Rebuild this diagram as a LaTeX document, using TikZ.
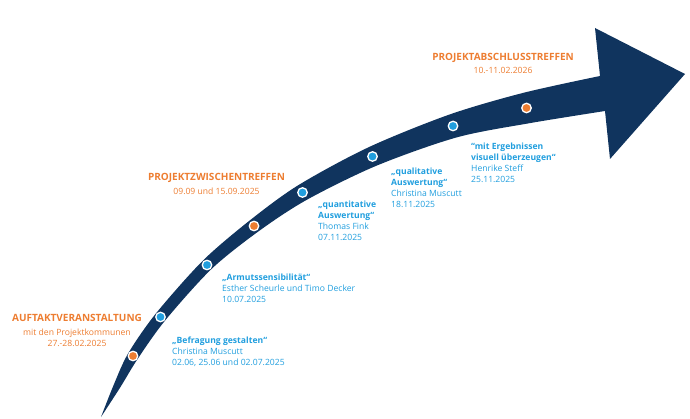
\documentclass[tikz,border=0pt]{standalone}
\usepackage{fontspec}
\setmainfont{Open Sans}
\usetikzlibrary{positioning}
\definecolor{navy}{RGB}{16,52,94}
\definecolor{milestone}{RGB}{237,125,49}
\definecolor{workshop}{RGB}{32,158,222}
\begin{document}
\begin{tikzpicture}[x=1pt,y=-1pt,
  dot/.style={circle,draw=white,line width=1.3pt,inner sep=0pt,minimum size=9.5pt},
  odot/.style={dot,fill=milestone},
  bdot/.style={dot,fill=workshop},
  wtext/.style={anchor=base west,align=left,inner sep=0pt,text=workshop,font={\fontsize{8.6}{11}\selectfont}},
  mtext/.style={anchor=base,align=center,inner sep=0pt,text=milestone,font={\fontsize{8.6}{11}\selectfont}}]
\useasboundingbox (0,0) rectangle (690,419);
% band and arrow head
\fill[navy] plot[smooth] coordinates {(101,417) (113.9,384.4) (128.2,353.3) (155.8,313.6)
    (202.8,260.7) (249.7,220.5) (298.3,185.2) (368.5,147.3) (449.3,114.6) (523.5,92.8) (600,76)}
  -- (595,28) -- (685,74) -- (610,159)
  -- plot[smooth] coordinates {(605,111) (529.5,123.2) (456.7,137.4) (376.5,165.7) (306.8,199.8)
    (258.3,231.5) (211.2,269.3) (165.2,320.4) (137.8,358.7) (120.1,387.6) (101,417)} -- cycle;
% milestones on the band
\node[odot] (d1) at (133,356) {};
\node[bdot] (d2) at (160.5,317) {};
\node[bdot] (d3) at (207,265) {};
\node[odot] (d4) at (254,226) {};
\node[bdot] (d5) at (302.5,192.5) {};
\node[bdot] (d6) at (372.5,156.5) {};
\node[bdot] (d7) at (453,126) {};
\node[odot] (d8) at (526.5,108) {};
% meetings (anchored at the last line)
\node[mtext] (auftakt) at (77,346) {{\fontsize{10}{11}\selectfont\bfseries AUFTAKTVERANSTALTUNG}\\[2.5pt]mit den Projektkommunen\\27.-28.02.2025};
\node[mtext] (zwischen) at (216.5,194.2) {{\fontsize{10}{11}\selectfont\bfseries PROJEKTZWISCHENTREFFEN}\\[2.5pt]09.09 und 15.09.2025};
\node[mtext] (abschluss) at (503,74) {{\fontsize{10}{11}\selectfont\bfseries PROJEKTABSCHLUSSTREFFEN}\\[2.5pt]10.-11.02.2026};
% workshops (anchored at the last line)
\node[wtext] (befragung) at (172,365.5) {\textbf{„Befragung gestalten“}\\Christina Muscutt\\02.06, 25.06 und 02.07.2025};
\node[wtext] (armut) at (222,302.5) {\textbf{„Armutssensibilität“}\\Esther Scheurle und Timo Decker\\10.07.2025};
\node[wtext] (quanti) at (318,240.5) {\textbf{„quantitative}\\\textbf{Auswertung“}\\Thomas Fink\\07.11.2025};
\node[wtext] (quali) at (391,207.5) {\textbf{„qualitative}\\\textbf{Auswertung“}\\Christina Muscutt\\18.11.2025};
\node[wtext] (visuell) at (471,183) {\textbf{“mit Ergebnissen}\\\textbf{visuell überzeugen“}\\Henrike Steff\\25.11.2025};
\end{tikzpicture}
\end{document}
